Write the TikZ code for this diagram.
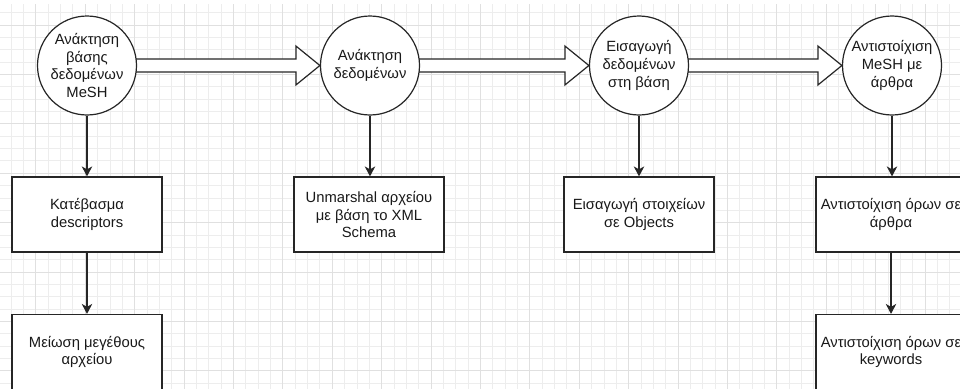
\documentclass[tikz,border=0pt]{standalone}
\usepackage{fontspec}
\setmainfont{Liberation Sans}
\usetikzlibrary{arrows.meta,calc}

\pgfdeclarelayer{gridlayer}
\pgfdeclarelayer{flowlayer}
\pgfsetlayers{gridlayer,flowlayer,main}

\tikzset{
  gridminor/.style={draw=black!7, line width=0.8pt},
  gridmajor/.style={draw=black!12, line width=0.9pt},
  lbl/.style={font=\fontsize{14.8}{17.8}\selectfont, align=center, text=black!90},
  phase/.style={lbl, circle, draw=black!85, fill=white, line width=1.2pt,
    minimum size=99pt, inner sep=0pt},
  stepbox/.style={lbl, rectangle, draw=black!85, fill=white, line width=1.2pt,
    minimum width=150pt, minimum height=75pt, inner sep=0pt},
  conn/.style={draw=black!85, line width=1.2pt,
    -{Stealth[length=10pt, width=10.5pt, inset=3pt]}},
  flexarrow/.style={draw=black!85, fill=white, line width=1.2pt, line join=miter}
}

% hollow block arrow between two phase circles
\newcommand{\blockarrow}[2]{%
  \draw[flexarrow]
    ($(#1.east)+(-2,-6.5)$) -- ($(#2.west)+(-24,-6.5)$) -- ($(#2.west)+(-24,-19.5)$)
    -- (#2.west) -- ($(#2.west)+(-24,19.5)$) -- ($(#2.west)+(-24,6.5)$)
    -- ($(#1.east)+(-2,6.5)$) -- cycle;}

\begin{document}
\begin{tikzpicture}[x=1pt, y=-1pt]
  \useasboundingbox (0,0) rectangle (960,388);
  \clip (0,0) rectangle (960,388);

  % background grid
  \begin{pgfonlayer}{gridlayer}
    \fill[white] (0,0) rectangle (960,388);
    \begin{scope}
      \clip (0,4) rectangle (960,388);
      \foreach \k in {0,...,78} \draw[gridminor] ({11.1+\k*12.35},0) -- ++(0,400);
      \foreach \k in {0,...,32} \draw[gridminor] (0,{0.3+\k*12.35}) -- ++(970,0);
      \foreach \k in {0,...,20} \draw[gridmajor] ({-13.6+\k*49.4},0) -- ++(0,400);
      \foreach \k in {0,...,8} \draw[gridmajor] (0,{-24.4+\k*49.4}) -- ++(970,0);
    \end{scope}
  \end{pgfonlayer}

  % main phases
  \node[phase] (c1) at (87,65.5) {Ανάκτηση\\βάσης\\δεδομένων\\MeSH};
  \node[phase] (c2) at (370,65.5) {Ανάκτηση\\δεδομένων};
  \node[phase] (c3) at (639,65.5) {Εισαγωγή\\δεδομένων\\στη βάση};
  \node[phase] (c4) at (892,65.5) {Αντιστοίχιση\\MeSH με\\άρθρα};

  % flow between phases, kept under the circles
  \begin{pgfonlayer}{flowlayer}
    \blockarrow{c1}{c2}
    \blockarrow{c2}{c3}
    \blockarrow{c3}{c4}
  \end{pgfonlayer}

  % sub-steps
  \node[stepbox] (b1) at (87,214.5) {Κατέβασμα\\descriptors};
  \node[stepbox] (b2) at (87,352) {Μείωση μεγέθους\\αρχείου};
  \node[stepbox] (u1) at (369,214.5) {Unmarshal αρχείου\\με βάση το XML\\Schema};
  \node[stepbox] (e1) at (639,214.5) {Εισαγωγή στοιχείων\\σε Objects};
  \node[stepbox] (a1) at (891,214.5) {Αντιστοίχιση όρων σε\\άρθρα};
  \node[stepbox] (a2) at (891,352) {Αντιστοίχιση όρων σε\\keywords};

  \draw[conn] (c1) -- (b1);
  \draw[conn] (b1) -- (b2);
  \draw[conn] (c2.south) -- (c2.south |- u1.north);
  \draw[conn] (c3) -- (e1);
  \draw[conn] (c4.south) -- (c4.south |- a1.north);
  \draw[conn] (a1) -- (a2);
\end{tikzpicture}
\end{document}
